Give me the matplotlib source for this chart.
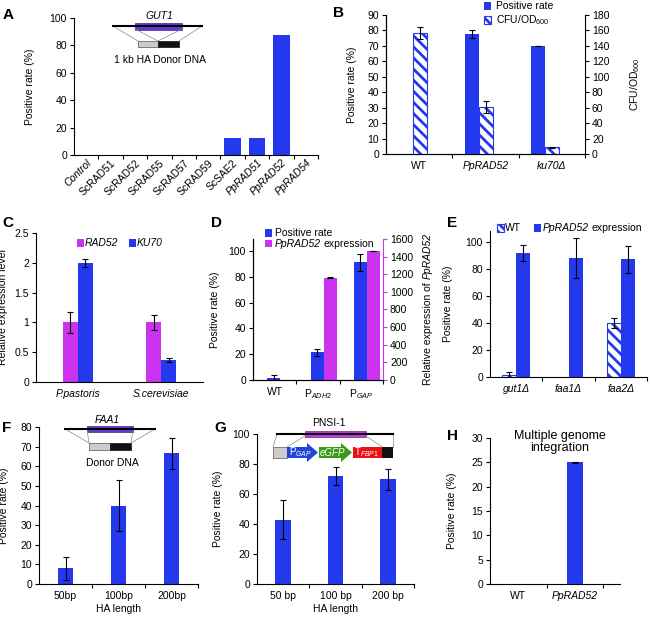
import matplotlib
matplotlib.use('Agg')
import matplotlib.pyplot as plt
import matplotlib.patches as mpatches
import matplotlib.transforms as mtransforms
from matplotlib.lines import Line2D
import numpy as np

plt.rcParams['font.family'] = ['Liberation Sans', 'DejaVu Sans']
plt.rcParams['mathtext.fontset'] = 'custom'
plt.rcParams['mathtext.rm'] = 'Liberation Sans'
plt.rcParams['mathtext.it'] = 'Liberation Sans:italic'
plt.rcParams['hatch.linewidth'] = 2.0
plt.rcParams['font.size'] = 7.5
plt.rcParams['axes.linewidth'] = 0.8

BLUE = '#2438ee'
MAGENTA = '#cc33ee'
VIOLET = '#6a35e0'
HATCH = '\\\\\\'

# ---- data ----
a_names = ['Control', 'ScRAD51', 'ScRAD52', 'ScRAD55', 'ScRAD57', 'ScRAD59',
           'ScSAE2', 'PpRAD51', 'PpRAD52', 'PpRAD54']
a_italic = [True, False, False, False, False, False, False, True, True, True]
a_rate = [0, 0, 0, 0, 0, 0, 12.5, 12.5, 87.5, 0]

b_names = ['WT', 'PpRAD52', 'ku70\u0394']
b_italic = [False, True, True]
b_rate = [0, 77.5, 70]
b_rate_err = [0, 2.5, 0.2]
b_cfu = [157, 61, 8.5]
b_cfu_err = [8, 8, 1]

c_names = ['P.pastoris', 'S.cerevisiae']
c_rad52 = [1.0, 1.0]
c_rad52_err = [0.17, 0.12]
c_ku70 = [2.0, 0.37]
c_ku70_err = [0.07, 0.04]

d_names = ['WT', r'P$_{\mathit{ADH2}}$', r'P$_{\mathit{GAP}}$']
d_rate = [1.5, 21.5, 91.5]
d_rate_err = [2.5, 2.5, 6.5]
d_expr = [5, 1160, 1468]
d_expr_err = [0, 6, 0]

e_names = ['gut1\u0394', 'faa1\u0394', 'faa2\u0394']
e_wt = [1.5, np.nan, 40]
e_wt_err = [2.0, 0, 4]
e_rad52 = [92, 88, 87]
e_rad52_err = [6, 15, 10]

f_names = ['50bp', '100bp', '200bp']
f_rate = [8, 40, 66.5]
f_err = [6, 13, 8]

g_names = ['50 bp', '100 bp', '200 bp']
g_rate = [43, 72, 70]
g_err = [13, 6, 7]

h_names = ['WT', 'PpRAD52']
h_italic = [False, True]
h_rate = [0, 25]
h_err = [0, 0.1]

W, H = 650, 618
fig = plt.figure(figsize=(W / 100, H / 100), dpi=100)
renderer = fig.canvas.get_renderer()


def px_axes(x0, y0, x1, y1):
    return fig.add_axes([x0 / W, 1 - y1 / H, (x1 - x0) / W, (y1 - y0) / H])


def P(x, y):
    return (x / W, 1 - y / H)


def style(ax, n, ylim, yticks, xmax=None):
    ax.spines['top'].set_visible(False)
    ax.spines['right'].set_visible(False)
    ax.set_xlim(-0.5, n - 0.5 if xmax is None else xmax)
    ax.set_ylim(*ylim)
    ax.set_yticks(yticks)
    ax.set_xticks(np.arange(n))
    ax.set_xticks(np.arange(0.5, n, 1.0), minor=True)
    ax.tick_params(axis='x', which='major', length=0, pad=5)
    ax.tick_params(axis='x', which='minor', length=3, width=0.8, direction='out')
    ax.tick_params(axis='y', length=3, width=0.8, direction='out', pad=2)


def ylab(ax, text, xpx, right=False):
    if right:
        ax.yaxis.set_label_position('right')
    ax.set_ylabel(text, fontsize=7.5, rotation=90)
    tr = mtransforms.blended_transform_factory(fig.transFigure, ax.transAxes)
    ax.yaxis.set_label_coords(xpx / W, 0.5, transform=tr)


def italic_labels(ax, flags):
    for lab, it in zip(ax.get_xticklabels(), flags):
        if it:
            lab.set_fontstyle('italic')


def err(ax, x, y, e):
    ax.errorbar(x, y, yerr=e, fmt='none', ecolor='black', elinewidth=0.8,
                capsize=2, capthick=0.8)


def letter(s, x, y):
    fig.text(x / W, 1 - y / H, s, fontsize=11, fontweight='bold', ha='left', va='top')


def rect(x0, y0, x1, y1, fc, ec='none', lw=0.5, hatch=None):
    fig.add_artist(mpatches.Rectangle(P(x0, y1), (x1 - x0) / W, (y1 - y0) / H,
                                      facecolor=fc, edgecolor=ec, lw=lw, hatch=hatch,
                                      transform=fig.transFigure))


def line(x0, y0, x1, y1, color='black', lw=1.2):
    fig.add_artist(Line2D([x0 / W, x1 / W], [1 - y0 / H, 1 - y1 / H], color=color,
                          lw=lw, transform=fig.transFigure))


def poly(pts, fc):
    fig.add_artist(mpatches.Polygon([P(x, y) for x, y in pts], closed=True,
                                    facecolor=fc, edgecolor='none',
                                    transform=fig.transFigure))


def ftext(x, y, s, **kw):
    fig.text(x / W, 1 - y / H, s, ha='center', va='center', **kw)


def rich(x, y, parts, size=7.5, gap=2.8):
    # horizontal run of text pieces with mixed styles, left edge at x
    for s, st in parts:
        t = fig.text(x / W, 1 - y / H, s, fontsize=size, fontstyle=st,
                     ha='left', va='center')
        x += t.get_window_extent(renderer).width + gap


def rich_v(x, yc, parts, size=7.5, gap=2.8):
    # vertical (rotated 90) run of text pieces centred on yc
    texts = [fig.text(x / W, 0, s, fontsize=size, fontstyle=st, rotation=90,
                      ha='center', va='bottom') for s, st in parts]
    hs = [t.get_window_extent(renderer).height for t in texts]
    total = sum(hs) + gap * (len(hs) - 1)
    yb = (H - yc) - total / 2
    for t, h in zip(texts, hs):
        t.set_position((x / W, yb / H))
        yb += h + gap


def key(x, y, fc, hatch=None, s=7):
    if hatch:
        rect(x - s / 2, y - s / 2, x + s / 2, y + s / 2, 'white', ec=BLUE, lw=0.8,
             hatch='\\\\\\\\')
    else:
        rect(x - s / 2, y - s / 2, x + s / 2, y + s / 2, fc)


# ---- A ----
axA = px_axes(74, 18, 318, 155)
xa = np.arange(len(a_names))
axA.bar(xa, a_rate, width=0.67, color=BLUE)
style(axA, len(a_names), (0, 100), np.arange(0, 101, 20))
axA.set_xticklabels(a_names, rotation=45, ha='right', rotation_mode='anchor')
axA.tick_params(axis='x', which='major', pad=2)
italic_labels(axA, a_italic)
ylab(axA, 'Positive rate (%)', 35)
letter('A', 3, 8)
line(113, 26, 138, 41, color='#888888', lw=0.5)
line(202, 26, 179, 41, color='#888888', lw=0.5)
line(135, 29, 158, 41, color='#888888', lw=0.5)
line(182, 29, 158, 41, color='#888888', lw=0.5)
line(113, 26, 202, 26, lw=1.5)
rect(135, 23, 182, 30, VIOLET, ec='#333366')
rect(138, 41, 158, 47, '#cccccc', ec='#555555')
rect(158, 41, 179, 47, '#111111', ec='#111111')
ftext(159, 16, 'GUT1', fontsize=7.5, fontstyle='italic')
ftext(160, 60, '1 kb HA Donor DNA', fontsize=7.5)

# ---- B ----
axB = px_axes(386, 15, 585, 154)
xb = np.arange(len(b_names))
wb = 0.215
axB.bar(xb - 0.1 - wb / 2, b_rate, width=wb, color=BLUE)
err(axB, (xb - 0.1 - wb / 2)[1:], b_rate[1:], b_rate_err[1:])
style(axB, 3, (0, 90), np.arange(0, 91, 10))
axB.set_xticklabels(b_names)
italic_labels(axB, b_italic)
ylab(axB, 'Positive rate (%)', 357)
axB2 = axB.twinx()
axB2.bar(xb - 0.1 + wb / 2, b_cfu, width=wb, facecolor='white', edgecolor=BLUE,
         hatch=HATCH, lw=0.8)
err(axB2, xb - 0.1 + wb / 2, b_cfu, b_cfu_err)
axB2.set_ylim(0, 180)
axB2.set_yticks(np.arange(0, 181, 20))
axB2.spines['top'].set_visible(False)
axB2.tick_params(axis='y', length=3, width=0.8, direction='out', pad=2)
ylab(axB2, 'CFU/OD$_{600}$', 628, right=True)
letter('B', 333, 6)
key(487, 6, BLUE)
rich(496, 6, [('Positive rate', 'normal')])
key(487, 20, None, hatch=True)
rich(496, 20, [('CFU/OD$_{600}$', 'normal')])

# ---- C ----
axC = px_axes(36, 233, 203, 382)
xc = np.arange(len(c_names))
wc = 0.18
axC.bar(xc - wc / 2, c_rad52, width=wc, color=MAGENTA)
axC.bar(xc + wc / 2, c_ku70, width=wc, color=BLUE)
err(axC, xc - wc / 2, c_rad52, c_rad52_err)
err(axC, xc + wc / 2, c_ku70, c_ku70_err)
style(axC, 2, (0, 2.5), [0, 0.5, 1, 1.5, 2, 2.5])
axC.set_yticklabels(['0', '0.5', '1', '1.5', '2', '2.5'])
axC.set_xticklabels(c_names, fontstyle='italic')
axC.tick_params(axis='x', which='minor', length=0)
ylab(axC, 'Relative expression level', 8.5)
letter('C', 2, 216)
key(80, 243, MAGENTA)
rich(85, 243, [('RAD52', 'italic')])
key(132, 243, BLUE)
rich(137, 243, [('KU70', 'italic')])

# ---- D ----
axD = px_axes(253, 239, 383, 380)
xd = np.arange(len(d_names))
wd = 0.3
axD.bar(xd + 0.13 - wd / 2, d_rate, width=wd, color=BLUE)
err(axD, xd + 0.13 - wd / 2, d_rate, d_rate_err)
style(axD, 3, (0, 109.5), np.arange(0, 101, 20))
axD.set_xticklabels(d_names)
ylab(axD, 'Positive rate (%)', 220)
axD2 = axD.twinx()
axD2.bar(xd + 0.13 + wd / 2, d_expr, width=wd, color=MAGENTA)
err(axD2, (xd + 0.13 + wd / 2)[1:], d_expr[1:], d_expr_err[1:])
axD2.set_ylim(0, 1600)
axD2.set_yticks(np.arange(0, 1601, 200))
axD2.spines['top'].set_visible(False)
axD2.spines['right'].set_color(MAGENTA)
axD2.tick_params(axis='y', length=3, width=0.8, direction='out', pad=2, color=MAGENTA)
rich_v(428, 309, [('Relative expression of', 'normal'), ('PpRAD52', 'italic')])
letter('D', 211, 216)
key(268, 233, BLUE)
rich(275, 233, [('Positive rate', 'normal')])
key(268, 244, MAGENTA)
rich(275, 244, [('PpRAD52', 'italic'), ('expression', 'normal')])

# ---- E ----
axE = px_axes(490, 231, 647, 377)
xe = np.arange(len(e_names))
we = 0.27
axE.bar(xe - we / 2, e_wt, width=we, facecolor='white', edgecolor=BLUE,
        hatch=HATCH, lw=0.8)
axE.bar(xe + we / 2, e_rad52, width=we, color=BLUE)
err(axE, (xe - we / 2)[[0, 2]], np.array(e_wt)[[0, 2]], np.array(e_wt_err)[[0, 2]])
err(axE, xe + we / 2, e_rad52, e_rad52_err)
style(axE, 3, (0, 108), np.arange(0, 101, 20))
axE.set_xticklabels(e_names, fontstyle='italic')
ylab(axE, 'Positive rate (%)', 453)
letter('E', 447, 216)
key(500, 228, None, hatch=True)
rich(505, 228, [('WT', 'normal')])
key(537, 228, BLUE)
rich(543, 228, [('PpRAD52', 'italic'), ('expression', 'normal')])

# ---- F ----
axF = px_axes(39, 427, 198, 584)
xf = np.arange(len(f_names))
axF.bar(xf, f_rate, width=0.28, color=BLUE)
err(axF, xf, f_rate, f_err)
style(axF, 3, (0, 80), np.arange(0, 81, 10))
axF.set_xticklabels(f_names)
axF.set_xlabel('HA length', fontsize=7.5, labelpad=2)
ylab(axF, 'Positive rate (%)', 9)
letter('F', 2, 421)
line(87, 429, 89, 443, color='#888888', lw=0.5)
line(65, 429, 89, 443, color='#888888', lw=0.5)
line(133, 429, 131, 443, color='#888888', lw=0.5)
line(155, 429, 131, 443, color='#888888', lw=0.5)
line(65, 429, 155, 429, lw=1.5)
rect(87, 426, 133, 432, VIOLET, ec='#333366')
rect(89, 443, 110, 450, '#cccccc', ec='#555555')
rect(110, 443, 131, 450, '#111111', ec='#111111')
ftext(107, 420, 'FAA1', fontsize=7.5, fontstyle='italic')
ftext(112, 463, 'Donor DNA', fontsize=7.5)

# ---- G ----
axG = px_axes(257, 434, 414, 584)
xg = np.arange(len(g_names))
axG.bar(xg, g_rate, width=0.3, color=BLUE)
err(axG, xg, g_rate, g_err)
style(axG, 3, (0, 100), np.arange(0, 101, 20))
axG.set_xticklabels(g_names)
axG.set_xlabel('HA length', fontsize=7.5, labelpad=2)
ylab(axG, 'Positive rate (%)', 223)
letter('G', 214, 421)
line(277, 434, 273, 447, color='#888888', lw=0.5)
line(305, 436, 287, 447, color='#888888', lw=0.5)
line(366, 436, 382, 447, color='#888888', lw=0.5)
line(393, 434, 393, 447, color='#888888', lw=0.5)
line(277, 434, 393, 434, lw=1.5)
rect(305, 431, 366, 437, MAGENTA, ec='#663366')
rect(273, 447, 287, 458, '#cccccc', ec='#555555')
poly([(287, 447), (307, 447), (307, 443), (318, 452.5), (307, 462), (307, 458), (287, 458)], '#2247d8')
poly([(319, 447), (341, 447), (341, 443), (352, 452.5), (341, 462), (341, 458), (319, 458)], '#3a9a1a')
rect(353, 447, 382, 458, '#ee1111')
rect(382, 447, 393, 458, '#111111')
ftext(300, 452.5, r'P$_{\mathit{GAP}}$', fontsize=7, color='white')
ftext(332, 452.5, 'eGFP', fontsize=7, color='white', fontstyle='italic')
ftext(366, 452.5, r'T$_{\mathit{FBP1}}$', fontsize=7, color='white')
ftext(329, 423, 'PNSI-1', fontsize=7.5)

# ---- H ----
axH = px_axes(490, 438, 620, 584)
xh = np.arange(len(h_names))
axH.bar(xh, h_rate, width=0.28, color=BLUE)
err(axH, xh[1:], h_rate[1:], h_err[1:])
style(axH, 2, (0, 30), np.arange(0, 31, 5), xmax=1.8)
axH.set_xticks([0.5, 1.5], minor=True)
axH.tick_params(axis='x', which='minor', length=3)
axH.set_xticklabels(h_names)
italic_labels(axH, h_italic)
ylab(axH, 'Positive rate (%)', 457)
letter('H', 447, 429)
ftext(560, 442, 'Multiple genome\nintegration', fontsize=9, linespacing=1.1)

fig.savefig('out.png', dpi=100)
